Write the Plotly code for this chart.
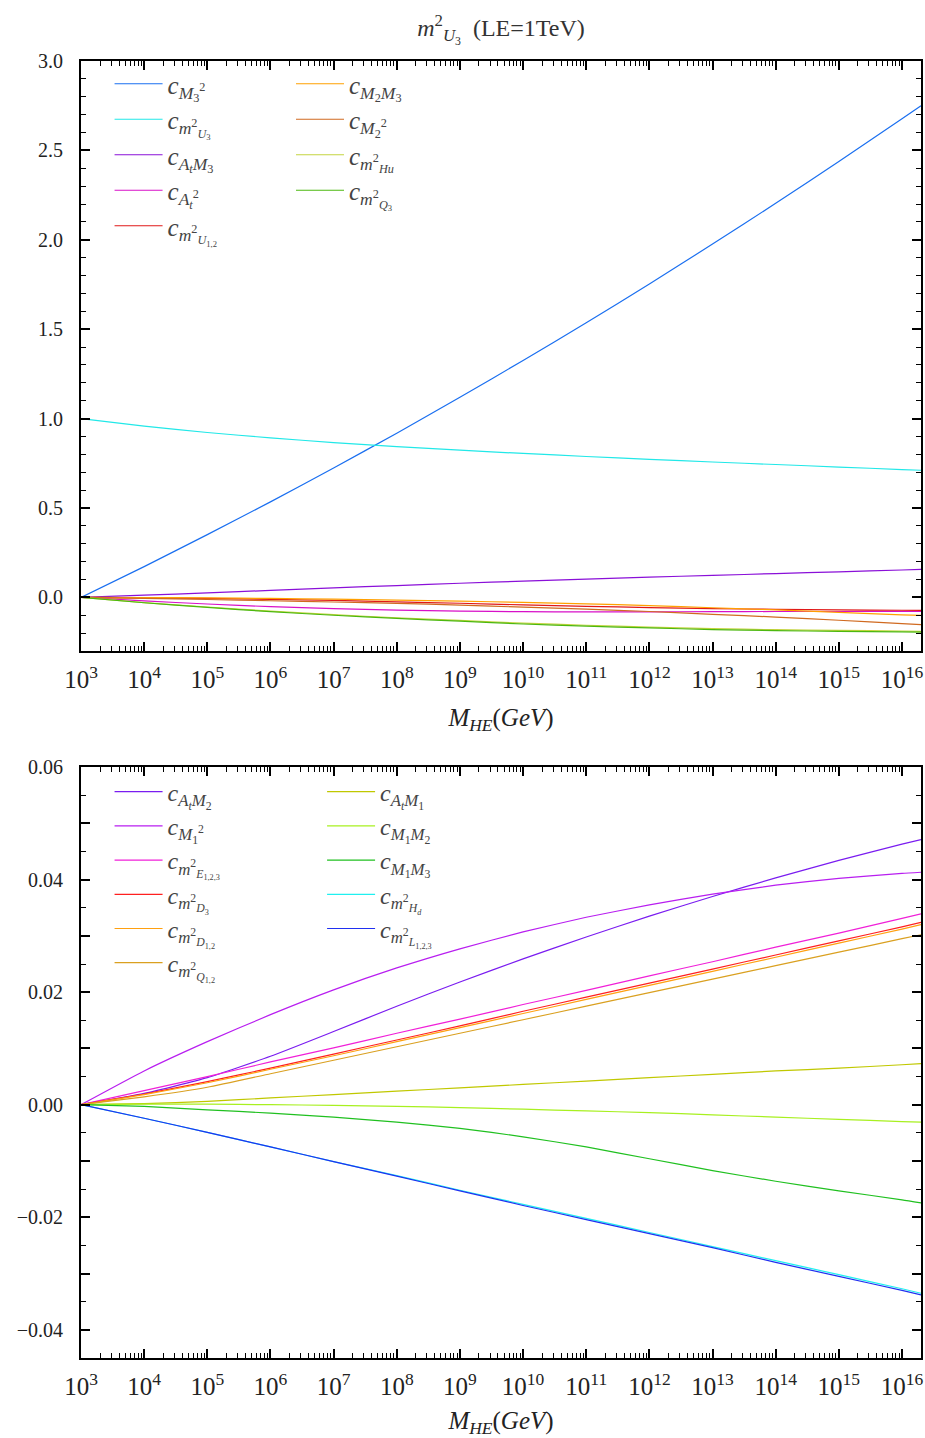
import plotly.graph_objects as go

# x values: M_HE in GeV
M_HE = [1e3, 1e4, 1e5, 1e6, 1e7, 1e8, 1e9, 1e10, 1e11, 1e12, 1e13, 1e14, 1e15, 1e16, 2e16]

# ---- top panel series ----
c_M3sq   = [0, 0.172, 0.351, 0.534, 0.724, 0.918, 1.119, 1.325, 1.536, 1.753, 1.976, 2.204, 2.438, 2.677, 2.75]
c_mU3sq  = [1.0, 0.958, 0.922, 0.892, 0.866, 0.843, 0.823, 0.805, 0.788, 0.772, 0.757, 0.743, 0.729, 0.715, 0.711]
c_AtM3   = [0, 0.012, 0.025, 0.039, 0.053, 0.066, 0.079, 0.091, 0.102, 0.113, 0.123, 0.133, 0.143, 0.153, 0.156]
c_Atsq   = [0, -0.02, -0.037, -0.052, -0.063, -0.071, -0.077, -0.080, -0.081, -0.081, -0.080, -0.079, -0.079, -0.078, -0.078]
c_mU12sq = [0, -0.003, -0.006, -0.011, -0.017, -0.025, -0.033, -0.042, -0.050, -0.057, -0.063, -0.067, -0.070, -0.072, -0.073]
c_M2M3   = [0, -0.001, -0.003, -0.006, -0.010, -0.015, -0.021, -0.028, -0.036, -0.046, -0.058, -0.070, -0.084, -0.098, -0.101]
c_M2sq   = [0, -0.006, -0.012, -0.019, -0.026, -0.034, -0.043, -0.055, -0.066, -0.079, -0.095, -0.110, -0.128, -0.147, -0.152]
c_mHusq  = [0, -0.029, -0.054, -0.077, -0.097, -0.114, -0.129, -0.144, -0.156, -0.166, -0.175, -0.181, -0.185, -0.188, -0.190]
c_mQ3sq  = [0, -0.030, -0.056, -0.080, -0.100, -0.118, -0.133, -0.149, -0.161, -0.171, -0.180, -0.186, -0.190, -0.193, -0.194]

# ---- bottom panel series ----
c_AtM2   = [0, 0.0020, 0.0048, 0.0086, 0.0130, 0.0175, 0.0218, 0.0259, 0.0298, 0.0335, 0.0370, 0.0403, 0.0434, 0.0463, 0.0471]
c_M1sq   = [0, 0.0060, 0.0112, 0.0160, 0.0204, 0.0243, 0.0277, 0.0307, 0.0333, 0.0355, 0.0374, 0.0390, 0.0402, 0.0411, 0.0413]
c_mEsq   = [0, 0.0025, 0.0050, 0.0076, 0.0101, 0.0127, 0.0152, 0.0178, 0.0203, 0.0229, 0.0254, 0.0280, 0.0305, 0.0331, 0.0339]
c_mD3sq  = [0, 0.0019, 0.0041, 0.0065, 0.0090, 0.0115, 0.0140, 0.0166, 0.0191, 0.0216, 0.0241, 0.0266, 0.0291, 0.0316, 0.0324]
c_mD12sq = [0, 0.0018, 0.0039, 0.0063, 0.0087, 0.0112, 0.0137, 0.0162, 0.0187, 0.0212, 0.0237, 0.0262, 0.0287, 0.0312, 0.0320]
c_mQ12sq = [0, 0.0014, 0.0031, 0.0055, 0.0079, 0.0103, 0.0127, 0.0151, 0.0175, 0.0199, 0.0223, 0.0247, 0.0271, 0.0295, 0.0302]
c_AtM1   = [0, 0.0002, 0.0006, 0.0012, 0.0018, 0.0024, 0.0030, 0.0036, 0.0042, 0.0048, 0.0054, 0.0060, 0.0065, 0.0071, 0.0073]
c_M1M2   = [0, 0.0001, 0.0001, 0.0, -0.0001, -0.0003, -0.0005, -0.0008, -0.0011, -0.0014, -0.0018, -0.0022, -0.0026, -0.0030, -0.0031]
c_M1M3   = [0, -0.0003, -0.0009, -0.0015, -0.0022, -0.0031, -0.0042, -0.0057, -0.0075, -0.0096, -0.0117, -0.0136, -0.0153, -0.0169, -0.01745]
c_mHdsq  = [0, -0.0024, -0.0049, -0.0075, -0.0101, -0.0126, -0.0152, -0.0177, -0.0202, -0.0227, -0.0252, -0.0277, -0.0302, -0.0327, -0.0335]
c_mLsq   = [0, -0.0024, -0.0049, -0.0075, -0.0101, -0.0127, -0.0153, -0.0179, -0.0204, -0.0229, -0.0254, -0.0280, -0.0305, -0.0330, -0.0338]

# bottom-panel y tick positions (labels only every 0.02)
bot_tickvals = [-0.04, -0.03, -0.02, -0.01, 0.0, 0.01, 0.02, 0.03, 0.04, 0.05, 0.06]
bot_ticktext = ["\u22120.04", "", "\u22120.02", "", "0.00", "", "0.02", "", "0.04", "", "0.06"]

top_names = [
    "<i>c</i><sub><i>M</i><sub>3</sub><sup>2</sup></sub>",
    "<i>c</i><sub><i>m</i><sup>2</sup><sub><i>U</i><sub>3</sub></sub></sub>",
    "<i>c</i><sub><i>A</i><sub><i>t</i></sub><i>M</i><sub>3</sub></sub>",
    "<i>c</i><sub><i>A</i><sub><i>t</i></sub><sup>2</sup></sub>",
    "<i>c</i><sub><i>m</i><sup>2</sup><sub><i>U</i><sub>1,2</sub></sub></sub>",
    "<i>c</i><sub><i>M</i><sub>2</sub><i>M</i><sub>3</sub></sub>",
    "<i>c</i><sub><i>M</i><sub>2</sub><sup>2</sup></sub>",
    "<i>c</i><sub><i>m</i><sup>2</sup><sub><i>Hu</i></sub></sub>",
    "<i>c</i><sub><i>m</i><sup>2</sup><sub><i>Q</i><sub>3</sub></sub></sub>",
]
top_data = [c_M3sq, c_mU3sq, c_AtM3, c_Atsq, c_mU12sq, c_M2M3, c_M2sq, c_mHusq, c_mQ3sq]
top_colors = ["#1a6ff0", "#22e8e8", "#8a10d8", "#d810c8", "#e01818", "#ffa000", "#d06a20", "#c4d440", "#4cb810"]
top_leg = ["legend"] * 5 + ["legend2"] * 4

bot_names = [
    "<i>c</i><sub><i>A</i><sub><i>t</i></sub><i>M</i><sub>2</sub></sub>",
    "<i>c</i><sub><i>M</i><sub>1</sub><sup>2</sup></sub>",
    "<i>c</i><sub><i>m</i><sup>2</sup><sub><i>E</i><sub>1,2,3</sub></sub></sub>",
    "<i>c</i><sub><i>m</i><sup>2</sup><sub><i>D</i><sub>3</sub></sub></sub>",
    "<i>c</i><sub><i>m</i><sup>2</sup><sub><i>D</i><sub>1,2</sub></sub></sub>",
    "<i>c</i><sub><i>m</i><sup>2</sup><sub><i>Q</i><sub>1,2</sub></sub></sub>",
    "<i>c</i><sub><i>A</i><sub><i>t</i></sub><i>M</i><sub>1</sub></sub>",
    "<i>c</i><sub><i>M</i><sub>1</sub><i>M</i><sub>2</sub></sub>",
    "<i>c</i><sub><i>M</i><sub>1</sub><i>M</i><sub>3</sub></sub>",
    "<i>c</i><sub><i>m</i><sup>2</sup><sub><i>H</i><sub><i>d</i></sub></sub></sub>",
    "<i>c</i><sub><i>m</i><sup>2</sup><sub><i>L</i><sub>1,2,3</sub></sub></sub>",
]
bot_data = [c_AtM2, c_M1sq, c_mEsq, c_mD3sq, c_mD12sq, c_mQ12sq, c_AtM1, c_M1M2, c_M1M3, c_mHdsq, c_mLsq]
bot_colors = ["#7a1cf0", "#b81ef0", "#f020d8", "#ff2020", "#ffa010", "#daa020", "#c0c800", "#a8f020", "#20c020", "#20f0f0", "#2030f0"]
bot_leg = ["legend3"] * 6 + ["legend4"] * 5

FONT = "Liberation Serif"

fig = go.Figure()
for name, ys, col, lg in zip(top_names, top_data, top_colors, top_leg):
    fig.add_trace(go.Scatter(x=M_HE, y=ys, name=name, mode="lines",
                             line=dict(color=col, width=1.2, shape="spline", smoothing=0.5),
                             xaxis="x", yaxis="y", legend=lg))
for name, ys, col, lg in zip(bot_names, bot_data, bot_colors, bot_leg):
    fig.add_trace(go.Scatter(x=M_HE, y=ys, name=name, mode="lines",
                             line=dict(color=col, width=1.2, shape="spline", smoothing=0.5),
                             xaxis="x2", yaxis="y2", legend=lg))

W, H = 925, 1438
l_m, r_m, t_m, b_m = 81, 4, 61, 80
ph = H - t_m - b_m
top_dom = [(1358 - 651) / ph, 1.0]
bot_dom = [0.0, (1358 - 767) / ph]

def xaxis_cfg(anchor):
    return dict(type="log", range=[3, 16.301], dtick=1, exponentformat="power", showexponent="all",
                ticks="inside", ticklen=9, tickwidth=1.5, tickcolor="black", ticklabelstandoff=6,
                minor=dict(ticks="inside", ticklen=5, tickwidth=1, tickcolor="black", dtick="D1", showgrid=False),
                showline=True, linewidth=2, linecolor="black", mirror="ticks", showgrid=False, zeroline=False,
                tickfont=dict(family=FONT, size=20, color="#222"), anchor=anchor,
                title=dict(text="<i>M</i><sub><i>HE</i></sub>(<i>GeV</i>)",
                           font=dict(family=FONT, size=25, color="#222"), standoff=16))

common_y = dict(ticks="inside", ticklen=9, tickwidth=1.5, tickcolor="black", ticklabelstandoff=12,
                showline=True, linewidth=2, linecolor="black", mirror="ticks", showgrid=False, zeroline=False,
                tickfont=dict(family=FONT, size=20, color="#222"))

leg_common = dict(bgcolor="rgba(0,0,0,0)", borderwidth=0, font=dict(family=FONT, size=25, color="#444"),
                  xanchor="left", yanchor="top", tracegroupgap=0, itemwidth=48)
leg_common_b = dict(leg_common, font=dict(family=FONT, size=24, color="#444"))

fig.update_layout(
    width=W, height=H,
    margin=dict(l=l_m, r=r_m, t=t_m, b=b_m, autoexpand=False),
    paper_bgcolor="white", plot_bgcolor="white",
    title=dict(text="<i>m</i><sup>2</sup><sub><i>U</i><sub>3</sub></sub>  (LE=1TeV)", x=0.5, xanchor="center",
               xref="paper", yref="container", y=1 - 28 / H, yanchor="middle",
               font=dict(family=FONT, size=24, color="#333")),
    xaxis=xaxis_cfg("y"),
    xaxis2=xaxis_cfg("y2"),
    yaxis=dict(domain=top_dom, range=[-0.3, 3.0], dtick=0.5, tick0=0, tickformat=".1f", anchor="x",
               minor=dict(ticks="inside", ticklen=5, tickwidth=1, tickcolor="black", dtick=0.1, tick0=0, showgrid=False),
               **common_y),
    yaxis2=dict(domain=bot_dom, range=[-0.045, 0.06], tickmode="array", tickvals=bot_tickvals, ticktext=bot_ticktext,
                anchor="x2",
                minor=dict(ticks="inside", ticklen=5, tickwidth=1, tickcolor="black", dtick=0.005, tick0=0, showgrid=False),
                **common_y),
    legend=dict(x=0.034, y=1.0, **leg_common),
    legend2=dict(x=0.250, y=1.0, **leg_common),
    legend3=dict(x=0.034, y=bot_dom[1] - 0.002, **leg_common_b),
    legend4=dict(x=0.287, y=bot_dom[1] - 0.002, **leg_common_b),
    showlegend=True,
)

fig.write_html("out.html",
               config={"displayModeBar": False},
               post_script="document.body.style.margin='0';document.body.style.overflow='hidden';"
                           "document.documentElement.style.overflow='hidden';")
